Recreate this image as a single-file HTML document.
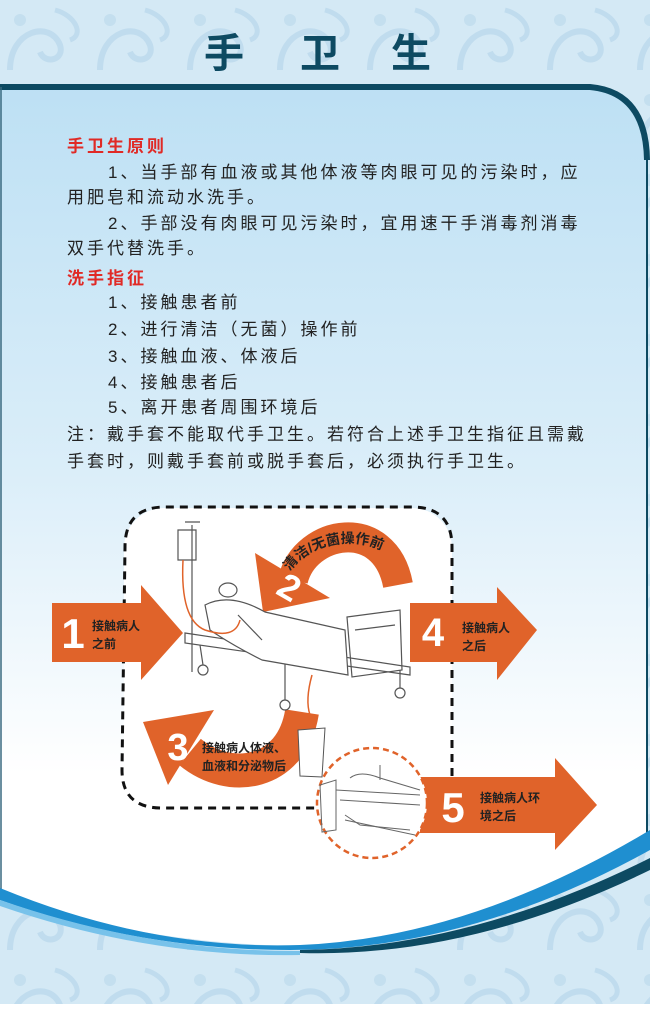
<!DOCTYPE html>
<html><head><meta charset="utf-8">
<style>
html,body{margin:0;padding:0;}
body{width:650px;height:1004px;overflow:hidden;font-family:"Liberation Sans","Noto Sans CJK SC",sans-serif;}
svg text{font-family:"Liberation Sans","Noto Sans CJK SC",sans-serif;}
</style></head><body>
<svg width="650" height="1004" viewBox="0 0 650 1004" xmlns="http://www.w3.org/2000/svg">
<defs>
<linearGradient id="pg" x1="0" y1="0" x2="0" y2="1">
<stop offset="0" stop-color="#bde0f4"/><stop offset="0.45" stop-color="#dbeef9"/><stop offset="0.8" stop-color="#ffffff"/><stop offset="1" stop-color="#ffffff"/>
</linearGradient>
<pattern id="orn" width="90" height="80" patternUnits="userSpaceOnUse">
<rect width="90" height="80" fill="#d4e9f5"/>
<path d="M10 70 C 10 30, 50 20, 60 45 C 65 60, 45 65, 40 52" fill="none" stroke="#c0dcee" stroke-width="6"/>
<path d="M55 10 C 75 15, 85 35, 70 40" fill="none" stroke="#c0dcee" stroke-width="5"/>
<circle cx="20" cy="20" r="6" fill="#c4dfef"/>
</pattern>
</defs>
<rect width="650" height="1004" fill="url(#orn)"/>
<path d="M0 87 L590 87 Q647 92 647 150 L647 840 Q470 950 290 946 Q140 942 0 898 Z" fill="url(#pg)"/>
<path d="M0 87 L590 87 Q646 92 647 160" fill="none" stroke="#0d4a62" stroke-width="6"/>
<line x1="647" y1="155" x2="647" y2="845" stroke="#0d4a62" stroke-width="2"/>
<line x1="1" y1="87" x2="1" y2="890" stroke="#3a6a80" stroke-width="1.5"/>
<path d="M0 888 Q150 950 300 945 Q470 938 650 830 L650 850 Q470 950 290 950 Q140 950 0 900 Z" fill="#1f8fd0"/>
<path d="M300 950 Q470 948 650 858 L650 870 Q470 958 300 953 Z" fill="#0d4a62"/>
<path d="M0 900 Q150 952 300 951 L300 955 Q150 958 0 906 Z" fill="#78c2ea"/>
<g font-size="40" font-weight="bold" fill="#0d4a62" text-anchor="middle">
<text x="224" y="67">手</text><text x="320" y="67">卫</text><text x="411" y="67">生</text>
</g>
<g font-size="17" fill="#222" letter-spacing="3">
<text x="67" y="152" fill="#e02a26" font-weight="bold">手卫生原则</text>
<text x="108" y="178">1、当手部有血液或其他体液等肉眼可见的污染时，应</text>
<text x="67" y="203">用肥皂和流动水洗手。</text>
<text x="108" y="229">2、手部没有肉眼可见污染时，宜用速干手消毒剂消毒</text>
<text x="67" y="254">双手代替洗手。</text>
<text x="67" y="284" fill="#e02a26" font-weight="bold">洗手指征</text>
<text x="108" y="308">1、接触患者前</text>
<text x="108" y="335">2、进行清洁（无菌）操作前</text>
<text x="108" y="362">3、接触血液、体液后</text>
<text x="108" y="388">4、接触患者后</text>
<text x="108" y="413">5、离开患者周围环境后</text>
<text x="67" y="440">注：戴手套不能取代手卫生。若符合上述手卫生指征且需戴</text>
<text x="67" y="467">手套时，则戴手套前或脱手套后，必须执行手卫生。</text>
</g>
<!-- dashed region -->
<rect x="124" y="508" width="328" height="299" rx="40" fill="#ffffff"/>
<path d="M452 790 L452 547 Q452 507 412 507 L165 507 Q125 507 125 547 L122 770 Q122 808 162 808 L318 808" fill="none" stroke="#111" stroke-width="3" stroke-dasharray="8 6"/>
<!-- arrow 1 -->
<polygon points="52,603 141,603 141,585 183,633 141,680 141,662 52,662" fill="#e0632a"/>
<text x="73" y="648" text-anchor="middle" font-size="42" font-weight="bold" fill="#fff">1</text>
<text x="92" y="630" font-size="12" font-weight="bold" fill="#222">接触病人</text>
<text x="92" y="648" font-size="12" font-weight="bold" fill="#222">之前</text>
<!-- arrow 4 -->
<polygon points="410,603 497,603 497,587 537,630 497,680 497,662 410,662" fill="#e0632a"/>
<text x="433" y="646" text-anchor="middle" font-size="40" font-weight="bold" fill="#fff">4</text>
<text x="462" y="632" font-size="12" font-weight="bold" fill="#222">接触病人</text>
<text x="462" y="650" font-size="12" font-weight="bold" fill="#222">之后</text>
<!-- arrow 5 -->
<polygon points="420,777 555,777 555,758 597,805 555,850 555,833 420,833" fill="#e0632a"/>
<text x="453" y="822" text-anchor="middle" font-size="42" font-weight="bold" fill="#fff">5</text>
<text x="480" y="802" font-size="12" font-weight="bold" fill="#222">接触病人环</text>
<text x="480" y="820" font-size="12" font-weight="bold" fill="#222">境之后</text>
<circle cx="372" cy="803" r="55" fill="#fff" stroke="#e0632a" stroke-width="2.5" stroke-dasharray="6 4"/>
<g fill="none" stroke="#666" stroke-width="1">
<path d="M320 785 L336 780 L336 830 L322 832 Z"/>
<path d="M336 790 L420 795 M340 800 L420 805 M345 820 L415 835 M350 778 Q360 770 380 778 L420 790"/>
<line x1="380" y1="765" x2="380" y2="780"/>
<path d="M345 815 L360 825 L410 830"/>
</g>
<!-- arrow 2 -->
<path d="M293 580 C 305 530, 385 515, 398 585" fill="none" stroke="#e0632a" stroke-width="30"/>
<polygon points="255,553 330,598 263,612" fill="#e0632a"/>
<path id="arc2" d="M288 575 C 305 540, 380 525, 405 575" fill="none"/>
<text font-size="14" font-weight="bold" fill="#222"><textPath href="#arc2" startOffset="4">清洁/无菌操作前</textPath></text>
<text x="282" y="595" font-size="36" font-weight="bold" fill="#fff" transform="rotate(30 282 580)">2</text>
<!-- arrow 3 -->
<path d="M302 712 C 292 775, 230 785, 190 752" fill="none" stroke="#e0632a" stroke-width="34"/>
<polygon points="143,722 214,710 168,785" fill="#e0632a"/>
<text x="178" y="760" text-anchor="middle" font-size="38" font-weight="bold" fill="#fff">3</text>
<text x="202" y="752" font-size="12" font-weight="bold" fill="#222">接触病人体液、</text>
<text x="202" y="770" font-size="12" font-weight="bold" fill="#222">血液和分泌物后</text>
<!-- bed sketch -->
<g fill="none" stroke="#555" stroke-width="1.2">
<line x1="192" y1="525" x2="192" y2="672"/>
<path d="M185 522 L200 522 M178 530 L196 530 L196 560 L178 560 Z"/>
<path d="M185 633 L410 667 L410 675 L185 643 Z"/>
<path d="M200 645 L203 665 M285 657 L285 700 M400 670 L400 688"/>
<circle cx="203" cy="670" r="5"/><circle cx="285" cy="705" r="5"/><circle cx="400" cy="693" r="5"/>
<path d="M347 617 L400 610 L402 670 L352 677 Z M355 630 L395 625"/>
<path d="M205 605 Q230 592 265 612 L345 630 L348 675 L262 660 Q232 645 210 630 Z" fill="#fff"/>
<ellipse cx="228" cy="590" rx="9" ry="7" fill="#fff"/>
<path d="M238 615 L262 640"/>
</g>
<path d="M183 560 Q180 620 205 630 Q235 640 240 620" fill="none" stroke="#e0632a" stroke-width="1.5"/>
<path d="M312 675 Q305 700 310 715 L312 728" fill="none" stroke="#e0632a" stroke-width="1.5"/>
<path d="M298 730 L325 728 L322 777 L300 776 Z" fill="#fff" stroke="#555" stroke-width="1"/>
</svg>
</body></html>
